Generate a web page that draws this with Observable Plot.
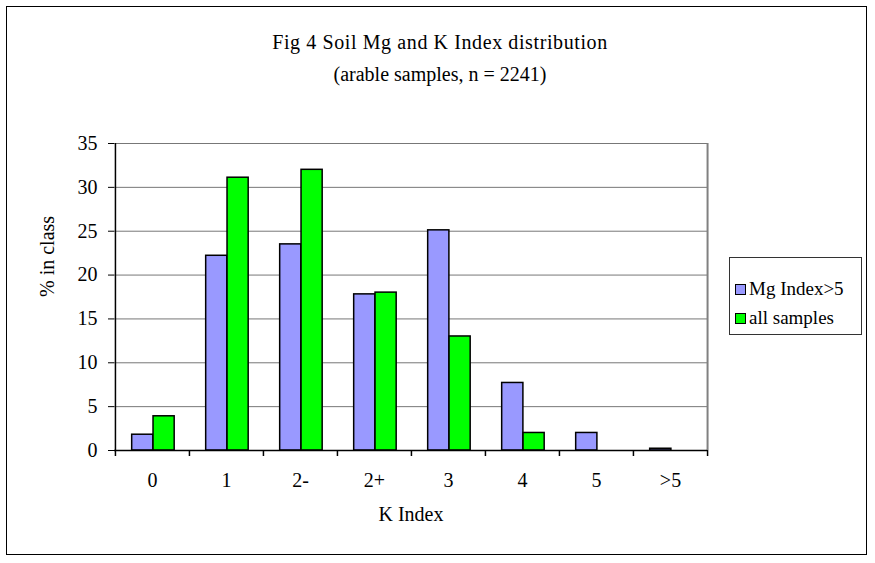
<!DOCTYPE html>
<html>
<head>
<meta charset="utf-8">
<script src="https://cdn.jsdelivr.net/npm/d3@7"></script>
<script src="https://cdn.jsdelivr.net/npm/@observablehq/plot@0.6"></script>
<style>
  html, body { margin: 0; padding: 0; background: #fff; }
  #wrap { position: relative; width: 875px; height: 563px; font-family: "Liberation Serif", "DejaVu Serif", serif; color: #000; }
  #border { position: absolute; left: 6px; top: 6px; width: 861px; height: 549px; border: 1px solid #000; box-sizing: border-box; pointer-events: none; }
  .title { position: absolute; left: 0; width: 880px; text-align: center; font-family: "Liberation Serif", serif; font-size: 20px; }
  #legend { position: absolute; left: 729px; top: 257px; width: 133px; height: 78px; border: 1px solid #333; box-sizing: border-box; background: #fff; font-family: "Liberation Serif", serif; font-size: 19px; }
  .item { position: absolute; left: 5px; display: flex; align-items: center; white-space: nowrap; font-family: "Liberation Serif", serif; }
  .sw { width: 9px; height: 9px; border: 1.5px solid #000; margin-right: 3px; }
</style>
</head>
<body>
<div id="wrap">
  <div id="border"></div>
  <div class="title" id="t1" style="top:31px; letter-spacing:0.6px"></div>
  <div class="title" id="t2" style="top:63px"></div>
  <div id="legend"></div>
</div>
<script>
const titleText = "Fig 4 Soil Mg and K Index distribution";
const subtitleText = "(arable samples, n = 2241)";
const categories = ["0", "1", "2-", "2+", "3", "4", "5", ">5"];
const seriesNames = ["Mg Index>5", "all samples"];
const mgValues = [1.8, 22.2, 23.5, 17.8, 25.1, 7.7, 2.0, 0.2];
const allValues = [3.9, 31.1, 32.0, 18.0, 13.0, 2.0, 0, 0];
const yTicks = [0, 5, 10, 15, 20, 25, 30, 35];
const xLabel = "K Index";
const yLabel = "% in class";
const colors = ["#9999ff", "#00ff00"];

const mgData = categories.map((c, i) => ({cat: c, value: mgValues[i]}));
const allData = categories.map((c, i) => ({cat: c, value: allValues[i]})).filter(d => d.value > 0);

const W = 875, H = 563;
const mL = 114, mR = 168, mT = 143, mB = 113;
const bw = (W - mL - mR) / categories.length;
const font = "Liberation Serif";
const first = categories[0];
const last = categories[categories.length - 1];

const chart = Plot.plot({
  width: W,
  height: H,
  marginLeft: mL,
  marginRight: mR,
  marginTop: mT,
  marginBottom: mB,
  style: {fontFamily: font, fontSize: "19px", background: "transparent", color: "#000"},
  x: {type: "band", domain: categories, padding: 0, label: null},
  y: {domain: [0, 35], label: null},
  marks: [
    Plot.gridY(yTicks, {stroke: "#777", strokeOpacity: 1, strokeWidth: 1}),
    Plot.ruleX([last], {dx: bw / 2, y1: 0, y2: 35, stroke: "#808080", strokeWidth: 2}),
    Plot.barY(mgData, {x: "cat", y: "value", fill: colors[0], stroke: "#000", strokeWidth: 1.5, insetLeft: 0.225 * bw, insetRight: 0.487 * bw}),
    Plot.barY(allData, {x: "cat", y: "value", fill: colors[1], stroke: "#000", strokeWidth: 1.5, insetLeft: 0.513 * bw, insetRight: 0.2 * bw}),
    Plot.ruleY([0], {stroke: "#000", strokeWidth: 1.5}),
    Plot.ruleX([first], {dx: -bw / 2, y1: 0, y2: 35, stroke: "#000", strokeWidth: 1.5}),
    Plot.axisY(yTicks, {tickSize: 6, tickPadding: 11, stroke: "#000", fontSize: 20, label: null}),
    Plot.axisX({tickSize: 0, tickPadding: 22, fontSize: 20, label: null}),
    Plot.ruleX(categories, {y1: 0, y2: 0, dx: -bw / 2, insetBottom: -6, stroke: "#000", strokeWidth: 1.5}),
    Plot.ruleX([last], {y1: 0, y2: 0, dx: bw / 2, insetBottom: -6, stroke: "#000", strokeWidth: 1.5}),
    Plot.text([xLabel], {frameAnchor: "bottom", dy: 70, fontSize: 20}),
    Plot.text([yLabel], {frameAnchor: "left", dx: -67, rotate: -90, fontSize: 20})
  ]
});

document.getElementById("wrap").insertBefore(chart, document.getElementById("border"));
chart.style.position = "absolute";
chart.style.left = "0px";
chart.style.top = "0px";
document.getElementById("t1").textContent = titleText;
document.getElementById("t2").textContent = subtitleText;

const legend = document.getElementById("legend");
seriesNames.forEach((name, i) => {
  const it = document.createElement("div");
  it.className = "item";
  it.style.top = (i === 0 ? 20 : 49) + "px";
  const sw = document.createElement("div");
  sw.className = "sw";
  sw.style.background = colors[i];
  const lab = document.createElement("span");
  lab.textContent = name;
  it.appendChild(sw);
  it.appendChild(lab);
  legend.appendChild(it);
});
</script>
</body>
</html>
